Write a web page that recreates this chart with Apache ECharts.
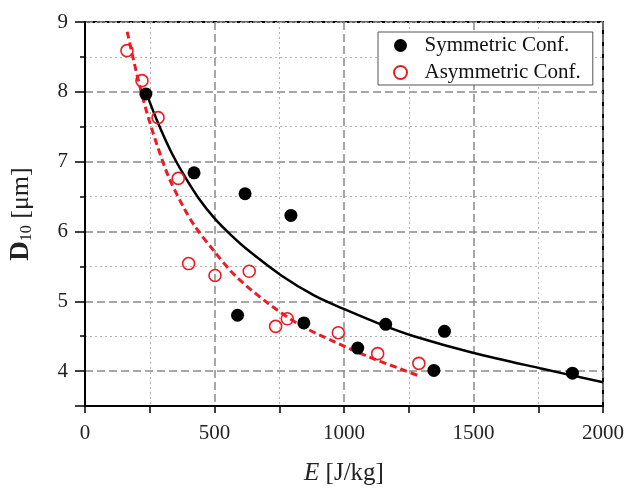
<!DOCTYPE html>
<html><head><meta charset="utf-8">
<script src="https://cdn.jsdelivr.net/npm/echarts@6/dist/echarts.min.js"></script>
<style>html,body{margin:0;padding:0;background:#fff}#c{width:630px;height:491px}</style>
</head><body><div id="c"></div>
<script>
// Measured points
const symX = [235, 421, 618, 795, 589, 845, 1161, 1388, 1053, 1347, 1882];
const symY = [7.97, 6.84, 6.54, 6.23, 4.80, 4.69, 4.67, 4.57, 4.33, 4.01, 3.97];
const asymX = [162, 220, 282, 360, 400, 502, 634, 736, 781, 978, 1130, 1289];
const asymY = [8.59, 8.16, 7.63, 6.76, 5.54, 5.37, 5.43, 4.64, 4.75, 4.55, 4.25, 4.11];
// Fit curves
const symFitX = [235, 278, 330, 380, 438, 502, 566, 630, 758, 886, 999, 1142, 1270, 1501, 1757, 2000];
const symFitY = [8.00, 7.59, 7.16, 6.82, 6.48, 6.18, 5.94, 5.73, 5.37, 5.08, 4.89, 4.67, 4.50, 4.26, 4.04, 3.84];
const asymFitX = [163, 201, 239, 278, 323, 380, 425, 496, 579, 707, 835, 963, 1091, 1219, 1283];
const asymFitY = [8.86, 8.24, 7.70, 7.24, 6.78, 6.35, 6.07, 5.73, 5.37, 4.97, 4.65, 4.42, 4.21, 4.03, 3.94];
// Axis
const xTicks = [0, 500, 1000, 1500, 2000];
const yTicks = [4, 5, 6, 7, 8, 9];
const seriesNames = ['Symmetric Conf.', 'Asymmetric Conf.'];

const zip = (a, b) => a.map((v, i) => [v, b[i]]);
const F = 'Liberation Serif';
const RED = '#ec1c24';
const majorDash = {color: '#8a8a8a', width: 1.5, type: [8, 4]};
const minorDot = {color: '#b0b0b0', width: 1, type: [2, 3]};

const chart = echarts.init(document.getElementById('c'), null, {renderer: 'canvas'});
chart.setOption({
  animation: false,
  backgroundColor: '#fff',
  grid: {left: 83, right: 27, top: 22, bottom: 85, show: true, borderColor: '#000', borderWidth: 2, backgroundColor: 'transparent'},
  xAxis: {
    type: 'value', min: xTicks[0], max: xTicks[xTicks.length - 1], interval: xTicks[1] - xTicks[0],
    axisLine: {lineStyle: {color: '#000', width: 2}},
    axisTick: {length: 7, lineStyle: {color: '#000', width: 1.5}},
    minorTick: {show: true, splitNumber: 2, length: 7, lineStyle: {color: '#000', width: 1.5}},
    splitLine: {show: true, lineStyle: majorDash},
    minorSplitLine: {show: true, lineStyle: minorDot},
    axisLabel: {fontFamily: F, fontSize: 21, color: '#222', margin: 17, formatter: v => String(v)},
    name: '{e|E}{n| [J/kg]}', nameLocation: 'middle', nameGap: 55,
    nameTextStyle: {rich: {e: {fontFamily: F, fontSize: 25, fontStyle: 'italic', color: '#222'}, n: {fontFamily: F, fontSize: 25, color: '#222'}}}
  },
  yAxis: [{
    type: 'value', position: 'left', min: 3.5, max: yTicks[yTicks.length - 1], minInterval: 1, maxInterval: 1, splitNumber: 5,
    axisLine: {lineStyle: {color: '#000', width: 2}},
    axisTick: {length: 10, lineStyle: {color: '#000', width: 1.5}},
    splitLine: {show: true, lineStyle: majorDash},
    axisLabel: {fontFamily: F, fontSize: 21, color: '#222', margin: 17, formatter: v => yTicks.includes(v) ? String(v) : ''},
    name: '{d|D}{s|10}{u| [μm]}', nameLocation: 'middle', nameGap: 50,
    nameTextStyle: {rich: {
      d: {fontFamily: F, fontSize: 27, fontWeight: 'bold', color: '#222'},
      s: {fontFamily: F, fontSize: 16, color: '#222', verticalAlign: 'bottom', padding: [8, 0, 0, 0]},
      u: {fontFamily: F, fontSize: 26, color: '#222'}
    }}
  }, {
    type: 'value', position: 'left', min: 3.5, max: yTicks[yTicks.length - 1], interval: 1,
    axisLine: {show: false},
    axisTick: {length: 5, lineStyle: {color: '#000', width: 1.5}},
    axisLabel: {show: false},
    splitLine: {show: true, lineStyle: minorDot}
  }],
  legend: {
    orient: 'vertical', left: 378, top: 32, padding: [3, 12, 2, 15], itemGap: 6,
    itemWidth: 38, itemHeight: 13,
    borderColor: '#555', borderWidth: 1, backgroundColor: '#fff',
    textStyle: {fontFamily: F, fontSize: 21, color: '#111'},
    data: seriesNames
  },
  series: [
    {type: 'line', name: 'symFit', data: zip(symFitX, symFitY), smooth: 0.3, showSymbol: false, symbol: 'none',
     lineStyle: {color: '#000', width: 2.5}, z: 3},
    {type: 'line', name: 'asymFit', data: zip(asymFitX, asymFitY), smooth: 0.3, showSymbol: false, symbol: 'none',
     lineStyle: {color: RED, width: 3, type: [7, 4]}, z: 3},
    {type: 'scatter', name: seriesNames[0], data: zip(symX, symY), symbol: 'circle', symbolSize: 13,
     itemStyle: {color: '#000', opacity: 1}, z: 4},
    {type: 'scatter', name: seriesNames[1], data: zip(asymX, asymY), symbol: 'circle', symbolSize: 12,
     itemStyle: {color: 'transparent', borderColor: RED, borderWidth: 1.6, opacity: 1}, z: 4}
  ]
});
</script>
</body></html>
